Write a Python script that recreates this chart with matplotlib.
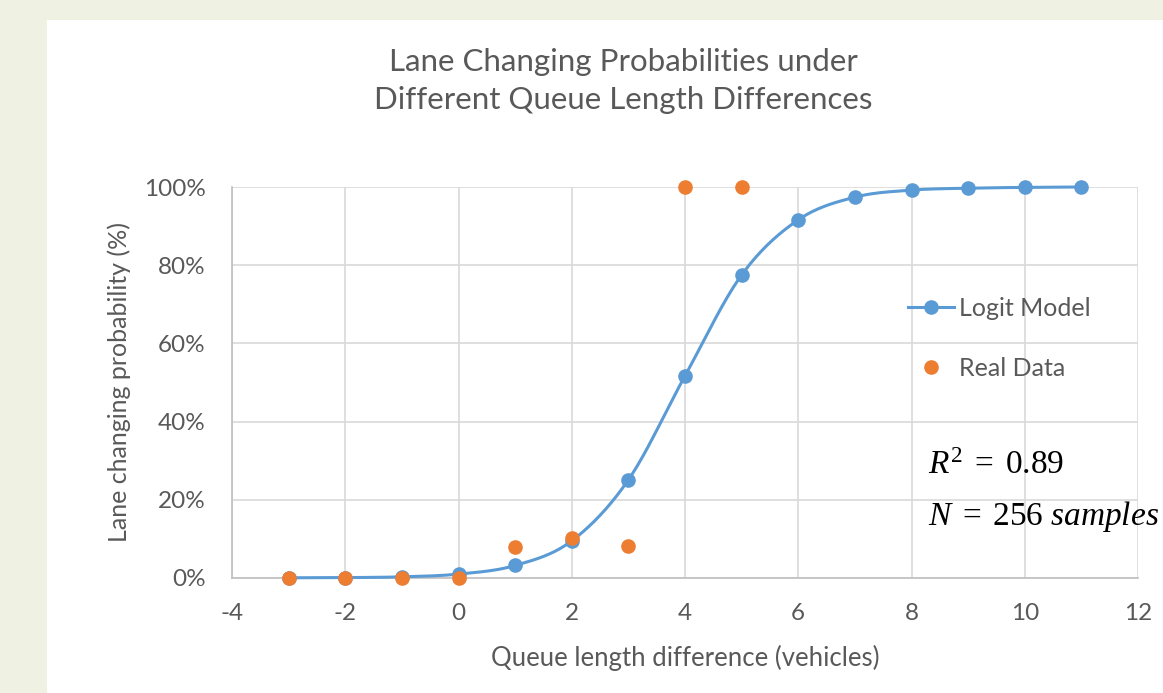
import numpy as np
import matplotlib
matplotlib.use("Agg")
import matplotlib.ticker as mtick
from matplotlib import pyplot as plt
from matplotlib.patches import Rectangle

plt.rcParams['font.family'] = ['Lato', 'DejaVu Sans']
plt.rcParams['axes.unicode_minus'] = False
plt.rcParams['mathtext.fontset'] = 'custom'
plt.rcParams['mathtext.rm'] = 'Liberation Serif'
plt.rcParams['mathtext.it'] = 'Liberation Serif:italic'

# data
queue_diff = [-3, -2, -1, 0, 1, 2, 3, 4, 5, 6, 7, 8, 9, 10, 11]
logit_prob = [0.0005, 0.001, 0.003, 0.010, 0.032, 0.095, 0.251, 0.517, 0.775,
              0.916, 0.974, 0.992, 0.997, 0.999, 1.0]
real_x = [-3, -2, -1, 0, 1, 2, 3, 4, 5]
real_prob = [0.0, 0.0, 0.0, 0.0, 0.080, 0.103, 0.083, 1.0, 1.0]

text_col = '#595959'
blue = '#5b9bd5'
orange = '#ed7d31'


def smooth(xs, ys, n=20):
    # Catmull-Rom curve through the points, like Excel's smoothed line
    xs = np.asarray(xs, float)
    ys = np.asarray(ys, float)
    px = np.concatenate([[2 * xs[0] - xs[1]], xs, [2 * xs[-1] - xs[-2]]])
    py = np.concatenate([[2 * ys[0] - ys[1]], ys, [2 * ys[-1] - ys[-2]]])
    outx, outy = [], []
    t = np.linspace(0, 1, n, endpoint=False)
    for i in range(1, len(px) - 2):
        for p, o in ((px, outx), (py, outy)):
            p0, p1, p2, p3 = p[i - 1], p[i], p[i + 1], p[i + 2]
            o.extend(0.5 * ((2 * p1) + (-p0 + p2) * t
                            + (2 * p0 - 5 * p1 + 4 * p2 - p3) * t ** 2
                            + (-p0 + 3 * p1 - 3 * p2 + p3) * t ** 3))
    outx.append(xs[-1])
    outy.append(ys[-1])
    return np.array(outx), np.array(outy)


fig = plt.figure(figsize=(11.63, 6.93), dpi=100)
fig.patch.set_facecolor('#eff2e3')
fig.patches.append(Rectangle((47 / 1163, 0), 1, 1 - 20 / 693, transform=fig.transFigure,
                             facecolor='white', edgecolor='none', zorder=-5))

ax = fig.add_axes([232 / 1163, 1 - 578 / 693, (1138 - 232) / 1163, (578 - 187) / 693])
ax.set_facecolor('none')
ax.set_zorder(2)

sx, sy = smooth(queue_diff, logit_prob)
ax.plot(sx, sy, color=blue, lw=2.2, zorder=3, clip_on=False)
ax.plot(queue_diff, logit_prob, 'o', color=blue, ms=9.5, zorder=4, clip_on=False)
ax.plot(real_x, real_prob, 'o', color=orange, ms=9.5, zorder=5, clip_on=False)

ax.set_xlim(-4, 12)
ax.set_ylim(0, 1)
ax.set_xticks(np.arange(-4, 13, 2))
ax.set_yticks(np.arange(0, 1.01, 0.2))
ax.yaxis.set_major_formatter(mtick.PercentFormatter(1.0, decimals=0))
ax.grid(True, color='#d9d9d9', lw=1.2)
ax.set_axisbelow(True)
for s in ['top', 'right']:
    ax.spines[s].set_visible(False)
for s in ['bottom', 'left']:
    ax.spines[s].set_color('#bfbfbf')
    ax.spines[s].set_linewidth(1.2)
ax.tick_params(length=0, labelsize=17.5, colors=text_col)
ax.tick_params(axis='x', pad=18)
ax.tick_params(axis='y', pad=19)

ax.set_xlabel('Queue length difference (vehicles)', fontsize=18.5, color=text_col, labelpad=15)
ax.set_ylabel('Lane changing probability (%)', fontsize=18, color=text_col, labelpad=9)

fig.text(623 / 1163, 1 - 81 / 693, 'Lane Changing Probabilities under\nDifferent Queue Length Differences',
         ha='center', va='center', fontsize=22.5, color=text_col, linespacing=1.45)

# legend
lh1, = ax.plot([], [], '-o', color=blue, lw=2.2, ms=9.5)
lh2, = ax.plot([], [], 'o', color=orange, ms=9.5)
ax.legend([lh1, lh2], ['Logit Model', 'Real Data'], loc='upper left',
          bbox_to_anchor=(885 / 1163, 1 - 274 / 693), bbox_transform=fig.transFigure,
          frameon=False, fontsize=18, labelcolor=text_col, handlelength=1.85,
          handletextpad=0.2, labelspacing=1.5)

fig.text(928 / 1163, 1 - 465 / 693, r'$R^{2}\;=\;\mathrm{0.89}$', fontsize=24, va='center', color='black')
fig.text(928 / 1163, 1 - 517 / 693, r'$N\;=\;\mathrm{256}\ samples$', fontsize=24, va='center', color='black')

fig.savefig('out.png', dpi=100)
